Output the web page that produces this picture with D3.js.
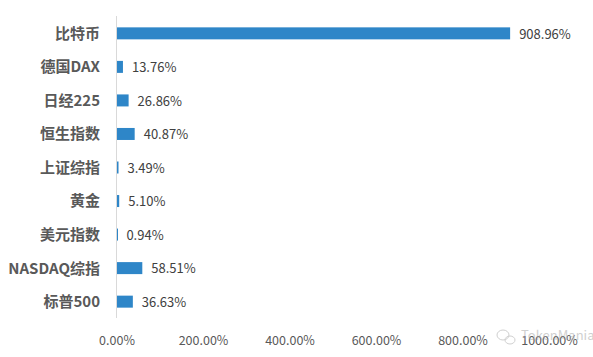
<!DOCTYPE html>
<html><head><meta charset="utf-8">
<script src="https://cdn.jsdelivr.net/npm/d3@7/dist/d3.min.js"></script>
<style>
html,body{margin:0;padding:0;background:#fff;}
svg{display:block;}
</style></head>
<body><svg id="c" width="593" height="357"></svg>
<script>
const categories = ["比特币","德国DAX","日经225","恒生指数","上证综指","黄金","美元指数","NASDAQ综指","标普500"];
const values = [908.96,13.76,26.86,40.87,3.49,5.10,0.94,58.51,36.63];
const ticks = [0,200,400,600,800,1000];

const svg = d3.select("#c");
const x = d3.scaleLinear().domain([0,1000]).range([117,549.5]);
const y = d3.scaleBand().domain(categories).range([16,318]).paddingInner(0.655).paddingOuter(0.33);

const font = "'Microsoft YaHei','Noto Sans CJK SC','Noto Sans',sans-serif";

// axis line
svg.append("line").attr("x1",116.5).attr("x2",116.5).attr("y1",16).attr("y2",318)
  .attr("stroke","#d9d9d9").attr("stroke-width",1);

// bars
svg.selectAll("rect.bar").data(values).enter().append("rect")
  .attr("class","bar")
  .attr("x",x(0))
  .attr("y",(d,i)=>y(categories[i]) + y.bandwidth()/2 - 5.5)
  .attr("width",d=>Math.max(1,x(d)-x(0)))
  .attr("height",12)
  .attr("fill","#2E86C8");

// value labels
svg.selectAll("text.val").data(values).enter().append("text")
  .attr("class","val")
  .attr("x",d=>x(d)+9)
  .attr("y",(d,i)=>y(categories[i]) + y.bandwidth()/2 + 1)
  .attr("dy","0.36em")
  .attr("font-family",font).attr("font-size",13).attr("fill","#404040")
  .text(d=>d.toFixed(2)+"%");

// category labels
svg.selectAll("text.cat").data(categories).enter().append("text")
  .attr("class","cat")
  .attr("x",100)
  .attr("y",d=>y(d)+y.bandwidth()/2 + 0.5)
  .attr("dy","0.36em")
  .attr("text-anchor","end")
  .attr("font-family",font).attr("font-size",15).attr("font-weight","bold").attr("fill","#595959")
  .text(d=>d);

// x tick labels
svg.selectAll("text.tick").data(ticks).enter().append("text")
  .attr("class","tick")
  .attr("x",d=>x(d))
  .attr("y",340)
  .attr("dy","0.36em")
  .attr("text-anchor","middle")
  .attr("font-family",font).attr("font-size",12.5).attr("fill","#595959")
  .text(d=>d.toFixed(2)+"%");

// watermark
const wm = svg.append("g").attr("opacity",0.55);
wm.append("ellipse").attr("cx",503).attr("cy",335).attr("rx",6).attr("ry",5).attr("fill","none").attr("stroke","#aaa");
wm.append("ellipse").attr("cx",510).attr("cy",340).attr("rx",5).attr("ry",4).attr("fill","none").attr("stroke","#aaa");
wm.append("text").attr("x",521).attr("y",335).attr("dy","0.36em")
  .attr("font-family",font).attr("font-size",13).attr("fill","#aaa").text("TokenMania");
</script>
</body></html>
